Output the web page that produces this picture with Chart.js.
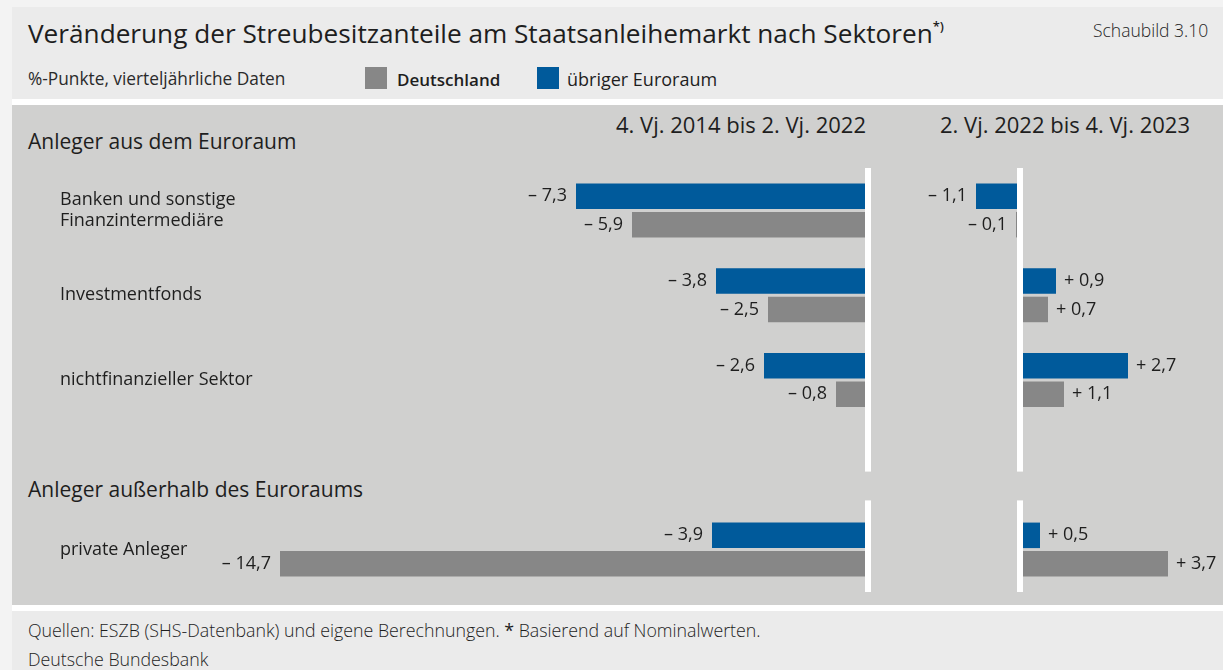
<!DOCTYPE html>
<html lang="de">
<head>
<meta charset="utf-8">
<title>Streubesitzanteile nach Sektoren</title>
<script src="https://cdn.jsdelivr.net/npm/chart.js@4.4.1/dist/chart.umd.min.js"></script>
<style>
body { margin:0; width:1223px; height:670px; background:#f3f3f3; font-family:"Open Sans", sans-serif; color:#1e1e1e; position:relative; overflow:hidden; }
.box { position:absolute; left:12px; width:1211px; }
#head { top:7px; height:92px; background:#ebebeb; }
#plot { top:99px; height:512px; background:#d0d0cf; border-top:6px solid #fff; border-bottom:6px solid #fff; box-sizing:border-box; }
#foot { top:611px; height:59px; background:#ebebeb; }
.t { position:absolute; white-space:nowrap; line-height:1; }
.sq { position:absolute; width:22px; height:22px; top:67px; }
canvas { position:absolute; left:0; top:0; }
</style>
</head>
<body>
<div class="box" id="head"></div>
<div class="box" id="plot"></div>
<div class="box" id="foot"></div>

<div class="t" style="left:28px; top:20px; font-size:26.2px;">Veränderung der Streubesitzanteile am Staatsanleihemarkt nach Sektoren<span style="font-size:13px; font-weight:600; position:relative; top:-12px;">*)</span></div>
<div class="t" style="left:1093px; top:22px; font-size:17.5px; font-weight:300;">Schaubild 3.10</div>
<div class="t" style="left:28px; top:70px; font-size:17.3px; font-weight:400; color:#2a2a2a;">%-Punkte, vierteljährliche Daten</div>
<div class="sq" style="left:365px; background:#878787;"></div>
<div class="t" style="left:397px; top:71px; font-size:17px; font-weight:600;">Deutschland</div>
<div class="sq" style="left:537px; background:#005a9b;"></div>
<div class="t" style="left:567px; top:70px; font-size:18px; font-weight:500;">übriger Euroraum</div>

<div class="t" style="left:28px; top:131px; font-size:21px;">Anleger aus dem Euroraum</div>
<div class="t" style="left:28px; top:479px; font-size:21px;">Anleger außerhalb des Euroraums</div>
<div class="t" id="p1" style="right:357px; top:113px; font-size:22px; font-weight:500;"></div>
<div class="t" id="p2" style="right:33px; top:113px; font-size:22px; font-weight:500;"></div>

<div class="t" style="left:28px; top:622px; font-size:17.8px; font-weight:300;">Quellen: ESZB (SHS-Datenbank) und eigene Berechnungen. <b>*</b> Basierend auf Nominalwerten.</div>
<div class="t" style="left:28px; top:651px; font-size:17.8px; font-weight:300;">Deutsche Bundesbank</div>

<canvas id="links" width="1223" height="670"></canvas>
<canvas id="rechts" width="1223" height="670"></canvas>

<script>
// Kategorien (Index 3 bleibt leer: Platz fuer die Zwischenueberschrift)
var sektoren = [["Banken und sonstige", "Finanzintermediäre"], "Investmentfonds", "nichtfinanzieller Sektor", "", "private Anleger"];
var zeitraeume = ["4. Vj. 2014 bis 2. Vj. 2022", "2. Vj. 2022 bis 4. Vj. 2023"];
var reihen = ["übriger Euroraum", "Deutschland"];

// 4. Vj. 2014 bis 2. Vj. 2022
var euroraum1 = [-7.3, -3.8, -2.6, null, -3.9];
var deutschland1 = [-5.9, -2.5, -0.8, null, -14.7];
// 2. Vj. 2022 bis 4. Vj. 2023
var euroraum2 = [-1.1, 0.9, 2.7, null, 0.5];
var deutschland2 = [-0.1, 0.7, 1.1, null, 3.7];

var farben = ["#005a9b", "#878787"];

document.getElementById("p1").textContent = zeitraeume[0];
document.getElementById("p2").textContent = zeitraeume[1];

Chart.defaults.font.family = "'Open Sans', sans-serif";
Chart.defaults.color = "#1e1e1e";

function fmt(v){
  var s = Math.abs(v).toFixed(1).replace(".", ",");
  return (v < 0 ? "\u2013 " : "+ ") + s;
}

// weisse Nulllinie mit Luecke bei der Zwischenueberschrift
var nullLinie = {
  id: "nullLinie",
  afterDatasetsDraw: function(chart){
    var ctx = chart.ctx, a = chart.chartArea;
    var x0 = chart.scales.x.getPixelForValue(0);
    var g1 = chart.scales.y.getPixelForValue(3.08);
    var g2 = chart.scales.y.getPixelForValue(3.42);
    ctx.save();
    ctx.fillStyle = "#ffffff";
    ctx.fillRect(x0 - 3, a.top, 6, g1 - a.top);
    ctx.fillRect(x0 - 3, g2, 6, a.bottom - g2);
    ctx.restore();
  }
};

var werte = {
  id: "werte",
  afterDraw: function(chart){
    var ctx = chart.ctx;
    ctx.save();
    ctx.font = "18px 'Open Sans'";
    ctx.fillStyle = "#1e1e1e";
    ctx.textBaseline = "middle";
    chart.data.datasets.forEach(function(ds, i){
      chart.getDatasetMeta(i).data.forEach(function(bar, j){
        var v = ds.data[j];
        if (v === null) return;
        if (v < 0) { ctx.textAlign = "right"; ctx.fillText(fmt(v), bar.x - 9, bar.y); }
        else { ctx.textAlign = "left"; ctx.fillText(fmt(v), bar.x + 8, bar.y); }
      });
    });
    ctx.restore();
  }
};

function datensaetze(a, b){
  return [
    { label: reihen[0], data: a, backgroundColor: farben[0], barPercentage: 0.895, categoryPercentage: 0.6726 },
    { label: reihen[1], data: b, backgroundColor: farben[1], barPercentage: 0.895, categoryPercentage: 0.6726 }
  ];
}

new Chart(document.getElementById("links"), {
  type: "bar",
  data: { labels: sektoren, datasets: datensaetze(euroraum1, deutschland1) },
  options: {
    indexAxis: "y",
    responsive: false,
    animation: false,
    layout: { padding: { left: 60, right: 355, top: 168, bottom: 78 } },
    plugins: { legend: { display: false }, tooltip: { enabled: false } },
    scales: {
      x: { display: false, min: -14.95, max: 0 },
      y: {
        grid: { display: false },
        border: { display: false },
        ticks: { crossAlign: "far", padding: 0, font: { size: 18, weight: 500, lineHeight: 1.2 }, color: "#1e1e1e" },
        afterFit: function(s){ s.width = 210; }
      }
    }
  },
  plugins: [nullLinie, werte]
});

new Chart(document.getElementById("rechts"), {
  type: "bar",
  data: { labels: sektoren, datasets: datensaetze(euroraum2, deutschland2) },
  options: {
    indexAxis: "y",
    responsive: false,
    animation: false,
    layout: { padding: { left: 920, right: 23, top: 168, bottom: 78 } },
    plugins: { legend: { display: false }, tooltip: { enabled: false } },
    scales: {
      x: { display: false, min: -2.5, max: 4.5 },
      y: { display: false }
    }
  },
  plugins: [nullLinie, werte]
});
</script>
</body>
</html>
